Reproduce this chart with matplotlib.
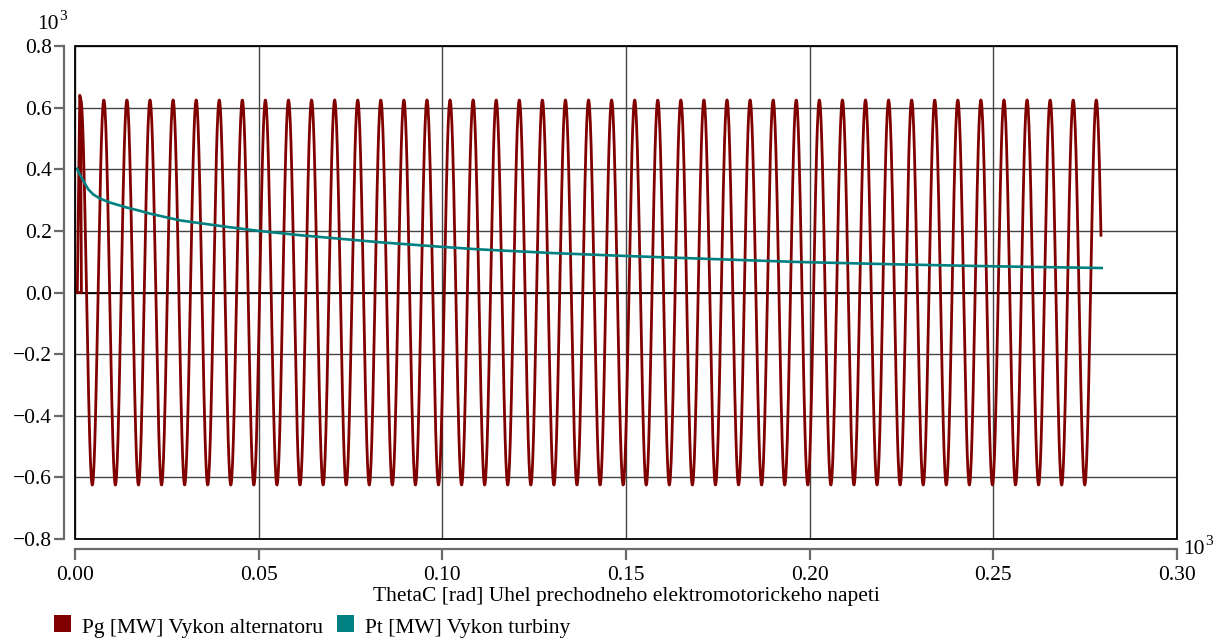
import numpy as np
import matplotlib
matplotlib.use("Agg")
import matplotlib.pyplot as plt
from matplotlib.patches import Rectangle
from matplotlib.ticker import FixedLocator, FuncFormatter

plt.rcParams['font.family'] = ['Liberation Serif', 'DejaVu Serif']

# ---------------- data (values in units of 10^3) ----------------
x_ticks = [0.00, 0.05, 0.10, 0.15, 0.20, 0.25, 0.30]
y_ticks = [-0.8, -0.6, -0.4, -0.2, 0.0, 0.2, 0.4, 0.6, 0.8]

# Pt [MW] Vykon turbiny
pt_x = [0.0006, 0.0013, 0.0023, 0.0036, 0.0050, 0.0068, 0.0095, 0.0140,
        0.0177, 0.0204, 0.0286, 0.0340, 0.0420, 0.0500, 0.0612, 0.0830,
        0.1000, 0.1100, 0.1300, 0.1500, 0.1750, 0.1970, 0.2250, 0.2500,
        0.2795]
pt_y = [0.402, 0.383, 0.362, 0.335, 0.318, 0.305, 0.292, 0.276,
        0.265, 0.256, 0.234, 0.225, 0.212, 0.200, 0.186, 0.163,
        0.148, 0.140, 0.128, 0.1185, 0.108, 0.099, 0.091, 0.085,
        0.0795]

# Pg [MW] Vykon alternatoru: power-angle characteristic Pg = Pmax*sin(ThetaC)
pg_max = 0.625            # peak value (x10^3 MW)
theta_first = 1.60        # rad, first sample after the start-up transient
theta_last = 279.33       # rad, last sample (right end of the red curve)
theta_step = 0.1          # rad
pg_start_x = [0.00150, 0.00175, 0.00063, 0.00130]
pg_start_y = [0.630, 0.000, 0.000, 0.640]

# ---------------- figure ----------------
W, H = 1223, 643
fig = plt.figure(figsize=(W / 100, H / 100), dpi=100)
L, R, T, B = 75, 1177, 46, 539
ax = fig.add_axes([L / W, (H - B) / H, (R - L) / W, (B - T) / H])
ax.set_xlim(0, 0.30)
ax.set_ylim(-0.8, 0.8)

axis_gray = '#6a6a6a'
for s in ['top', 'right']:
    ax.spines[s].set_visible(False)
ax.spines['left'].set_position(('outward', 7.9))
ax.spines['bottom'].set_position(('outward', 7.2))
for s in ['left', 'bottom']:
    ax.spines[s].set_color(axis_gray)
    ax.spines[s].set_linewidth(1.6)

ax.xaxis.set_major_locator(FixedLocator(x_ticks))
ax.yaxis.set_major_locator(FixedLocator(y_ticks))
ax.xaxis.set_major_formatter(FuncFormatter(lambda v, p: f"{v:.2f}"))
ax.yaxis.set_major_formatter(
    FuncFormatter(lambda v, p: f"{v:.1f}".replace('-', '\u2212')))
ax.tick_params(axis='both', direction='out', color=axis_gray, width=1.6,
               labelsize=15.5, labelcolor='black')
ax.tick_params(axis='y', length=7.2, pad=1.5)
ax.tick_params(axis='x', length=8, pad=4)

ax.grid(True, color='#444444', linewidth=1.0)
ax.set_axisbelow(True)
ax.axhline(0, color='black', linewidth=1.3, zorder=1.5)

# plot frame
ax.add_patch(Rectangle((0, 0), 1, 1, transform=ax.transAxes, fill=False,
                       edgecolor='black', linewidth=1.3, clip_on=False,
                       zorder=5))

# curves
theta = np.arange(theta_first, theta_last, theta_step)
pg_x = np.concatenate([pg_start_x, theta / 1000.0])
pg_y = np.concatenate([pg_start_y, pg_max * np.sin(theta)])
red = '#800000'
teal = '#008080'
ax.plot(pg_x, pg_y, color=red, linewidth=2.0, zorder=3)
ax.plot(pt_x, pt_y, color=teal, linewidth=1.9, zorder=4)

# exponent labels
def power_label(xpx, ybase):
    fig.text(xpx / W, 1 - ybase / H, "10", fontsize=15.5, ha='left',
             va='baseline')
    fig.text((xpx + 22) / W, 1 - (ybase - 9) / H, "3", fontsize=11,
             ha='left', va='baseline')

power_label(37, 29)
power_label(1183, 554)

# x label
fig.text((L + R) / 2 / W, 1 - 601 / H,
         "ThetaC [rad] Uhel prechodneho elektromotorickeho napeti",
         fontsize=15.5, ha='center', va='baseline')

# legend (manual)
def legend_item(x0, color, label):
    fig.add_artist(Rectangle((x0 / W, 1 - 632 / H), 17 / W, 17 / H,
                             transform=fig.transFigure, facecolor=color,
                             edgecolor='none'))
    fig.text((x0 + 28) / W, 1 - 633 / H, label, fontsize=15.5,
             ha='left', va='baseline')

legend_item(54, red, "Pg [MW] Vykon alternatoru")
legend_item(337, teal, "Pt [MW] Vykon turbiny")

fig.savefig("out.png", dpi=100)
